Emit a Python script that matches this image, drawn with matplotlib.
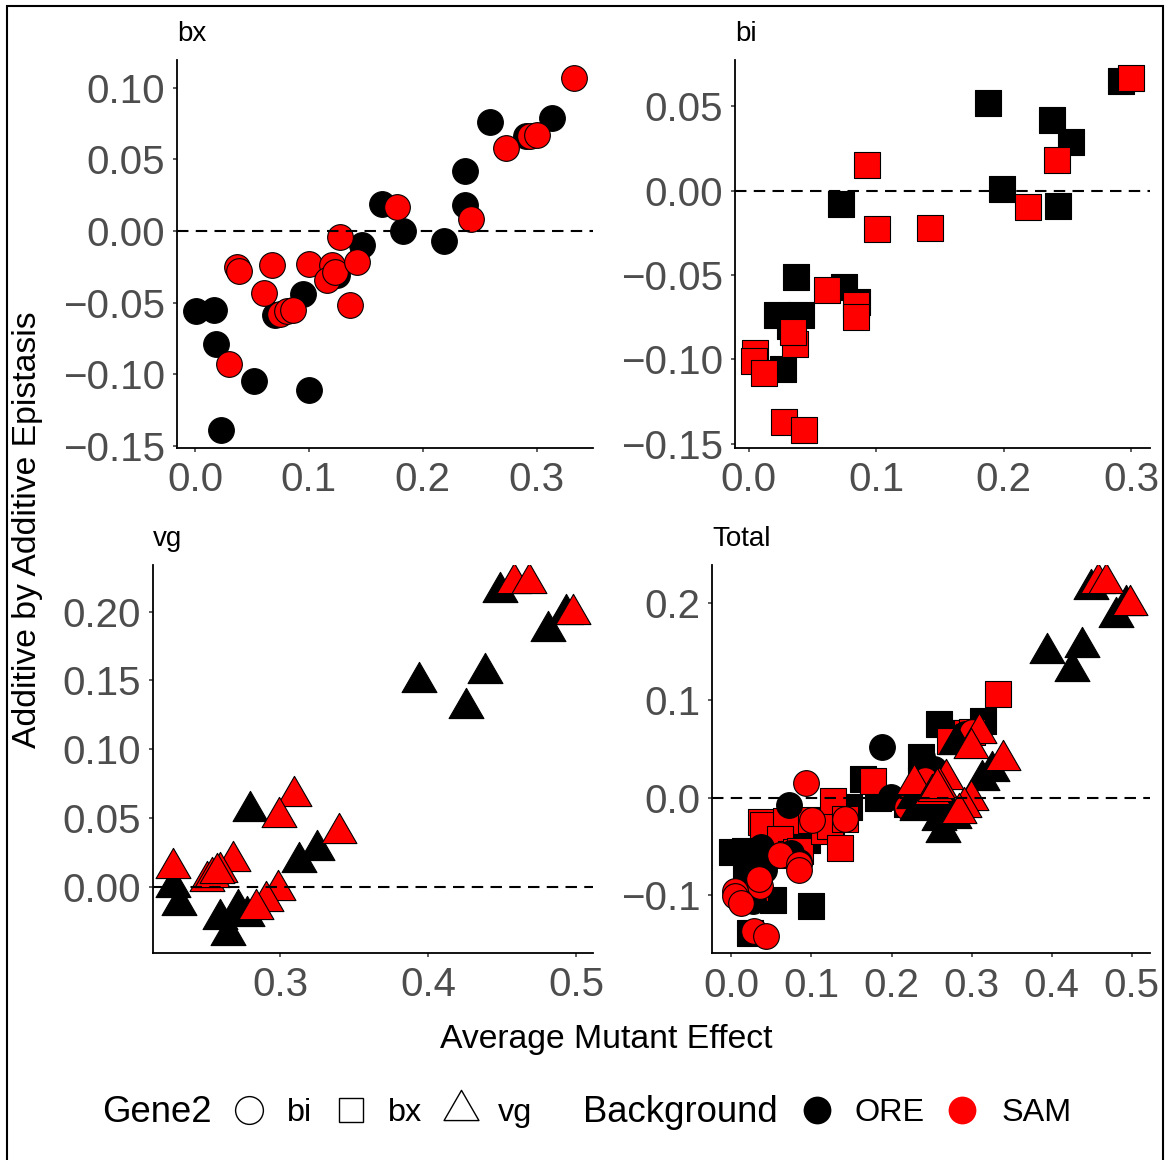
import matplotlib
matplotlib.use("Agg")
import matplotlib.pyplot as plt
from matplotlib.path import Path
from matplotlib.lines import Line2D
from matplotlib.patches import Rectangle
from matplotlib.ticker import FuncFormatter

plt.rcParams['font.family'] = ['Liberation Sans', 'DejaVu Sans']

# epistasis vs average mutant effect, Gene1 = bx
bx_ore_x = [0.001, 0.017, 0.018, 0.052, 0.100, 0.023, 0.070, 0.095, 0.125, 0.147,
            0.164, 0.183, 0.219, 0.237, 0.237, 0.259, 0.291, 0.314]
bx_ore_y = [-0.056, -0.055, -0.079, -0.105, -0.111, -0.139, -0.059, -0.044, -0.031, -0.010,
            0.019, 0.000, -0.007, 0.042, 0.018, 0.076, 0.066, 0.079]
bx_sam_x = [0.037, 0.039, 0.068, 0.061, 0.030, 0.075, 0.081, 0.086, 0.100, 0.120,
            0.116, 0.123, 0.136, 0.127, 0.142, 0.177, 0.242, 0.273, 0.294, 0.300, 0.333]
bx_sam_y = [-0.025, -0.028, -0.024, -0.043, -0.093, -0.058, -0.056, -0.055, -0.023, -0.024,
            -0.034, -0.029, -0.052, -0.004, -0.022, 0.017, 0.008, 0.058, 0.066, 0.067, 0.107]

# Gene1 = bi
bi_ore_x = [0.188, 0.238, 0.253, 0.199, 0.243, 0.292, 0.072, 0.037, 0.075, 0.085,
            0.022, 0.041, 0.032, 0.027]
bi_ore_y = [0.052, 0.042, 0.029, 0.001, -0.009, 0.065, -0.008, -0.051, -0.057, -0.066,
            -0.074, -0.074, -0.080, -0.106]
bi_sam_x = [0.300, 0.093, 0.101, 0.142, 0.219, 0.242, 0.061, 0.084, 0.084, 0.036,
            0.035, 0.005, 0.004, 0.012, 0.028, 0.043]
bi_sam_y = [0.067, 0.015, -0.023, -0.022, -0.010, 0.018, -0.059, -0.068, -0.075, -0.091,
            -0.084, -0.096, -0.101, -0.108, -0.137, -0.142]

# Gene1 = vg
vg_ore_x = [0.280, 0.313, 0.325, 0.2275, 0.2315, 0.2595, 0.2646, 0.2718, 0.2775, 0.394,
            0.4385, 0.426, 0.4486, 0.481, 0.493]
vg_ore_y = [0.055, 0.018, 0.027, 0.000, -0.013, -0.023, -0.035, -0.016, -0.021, 0.149,
            0.155, 0.130, 0.214, 0.186, 0.198]
vg_sam_x = [0.2275, 0.2685, 0.2595, 0.2505, 0.2539, 0.2572, 0.3095, 0.2995, 0.3396, 0.2989,
            0.2905, 0.2838, 0.458, 0.468, 0.498]
vg_sam_y = [0.014, 0.019, 0.011, 0.004, 0.007, 0.010, 0.066, 0.051, 0.039, -0.002,
            -0.010, -0.016, 0.221, 0.221, 0.198]

W, H = 1170, 1160
fig = plt.figure(figsize=(W / 100, H / 100), dpi=100)

# triangle centred on its centroid (R-style pch 24)
TRI = Path([[0, 1], [-0.866, -0.5], [0.866, -0.5], [0, 1]], closed=True)
MARKERS = {'circle': ('o', 18.5), 'square': ('s', 18.5), 'triangle': (TRI, 29)}
ORE, SAM = 'black', '#FF0000'
GREY = '#4D4D4D'


def px_axes(left, top, right, bottom):
    return fig.add_axes([left / W, 1 - bottom / H, (right - left) / W, (bottom - top) / H])


def fmt(decimals):
    def f(v, pos):
        s = f'{v:.{decimals}f}'
        if float(s) == 0:
            s = s.lstrip('-')
        return s.replace('-', '\u2212')
    return FuncFormatter(f)


def points(ax, x, y, shape, color):
    m, ms = MARKERS[shape]
    ax.scatter(x, y, marker=m, s=ms ** 2, c=color, edgecolors='black',
               linewidths=0.8, zorder=2)


def finish(ax, xticks, yticks, xdec, ydec):
    ax.margins(0.05)
    ax.axhline(0, color='black', lw=1.5, ls=(0, (5.5, 3.5)), zorder=3)
    xl, yl = ax.get_xlim(), ax.get_ylim()
    ax.set_xticks(xticks)
    ax.set_yticks(yticks)
    ax.set_xlim(xl)
    ax.set_ylim(yl)
    ax.xaxis.set_major_formatter(fmt(xdec))
    ax.yaxis.set_major_formatter(fmt(ydec))
    for s in ['top', 'right']:
        ax.spines[s].set_visible(False)
    for s in ['left', 'bottom']:
        ax.spines[s].set_linewidth(1.3)
    ax.tick_params(axis='both', length=2.75, width=1.1, color='#333333',
                   labelsize=29, labelcolor=GREY)
    ax.tick_params(axis='x', pad=7)
    ax.tick_params(axis='y', pad=6)


ax1 = px_axes(177.3, 60, 593, 447.7)
points(ax1, bx_ore_x, bx_ore_y, 'circle', ORE)
points(ax1, bx_sam_x, bx_sam_y, 'circle', SAM)
finish(ax1, [0, 0.1, 0.2, 0.3], [-0.15, -0.10, -0.05, 0, 0.05, 0.10], 1, 2)

ax2 = px_axes(735, 60, 1150, 447.7)
points(ax2, bi_ore_x, bi_ore_y, 'square', ORE)
points(ax2, bi_sam_x, bi_sam_y, 'square', SAM)
finish(ax2, [0, 0.1, 0.2, 0.3], [-0.15, -0.10, -0.05, 0, 0.05], 1, 2)

ax3 = px_axes(152.7, 565, 593, 952.7)
points(ax3, vg_ore_x, vg_ore_y, 'triangle', ORE)
points(ax3, vg_sam_x, vg_sam_y, 'triangle', SAM)
finish(ax3, [0.3, 0.4, 0.5], [0, 0.05, 0.10, 0.15, 0.20], 1, 2)

ax4 = px_axes(712.3, 565, 1150, 953.3)
points(ax4, bx_ore_x, bx_ore_y, 'square', ORE)
points(ax4, bx_sam_x, bx_sam_y, 'square', SAM)
points(ax4, bi_ore_x, bi_ore_y, 'circle', ORE)
points(ax4, bi_sam_x, bi_sam_y, 'circle', SAM)
points(ax4, vg_ore_x, vg_ore_y, 'triangle', ORE)
points(ax4, vg_sam_x, vg_sam_y, 'triangle', SAM)
finish(ax4, [0, 0.1, 0.2, 0.3, 0.4, 0.5], [-0.1, 0, 0.1, 0.2], 1, 1)


def ftext(x, y, s, **kw):
    fig.text(x / W, 1 - y / H, s, **kw)


# panel titles
ftext(177, 41, 'bx', fontsize=20, va='baseline')
ftext(735, 41, 'bi', fontsize=20, va='baseline')
ftext(153, 546, 'vg', fontsize=20, va='baseline')
ftext(712, 546, 'Total', fontsize=20, va='baseline')

# shared axis titles
ftext(606, 1048, 'Average Mutant Effect', fontsize=24.3, ha='center', va='baseline')
ftext(28, 530, 'Additive by Additive Epistasis', fontsize=24.3, rotation=90,
      ha='center', va='center')


def key(x, y, marker, ms, face, edge, lw):
    fig.add_artist(Line2D([x / W], [1 - y / H], transform=fig.transFigure, marker=marker,
                          markersize=ms, markerfacecolor=face, markeredgecolor=edge,
                          markeredgewidth=lw, linestyle='none'))


# legend
ftext(102, 1122, 'Gene2', fontsize=26.3, va='baseline')
key(249, 1110, 'o', 20, 'none', 'black', 1.0)
ftext(287, 1121, 'bi', fontsize=23.3, va='baseline')
key(351, 1110, 's', 17, 'none', 'black', 1.0)
ftext(388, 1121, 'bx', fontsize=23.3, va='baseline')
key(461, 1110, TRI, 29, 'none', 'black', 1.0)
ftext(498, 1121, 'vg', fontsize=23.3, va='baseline')

ftext(583, 1122, 'Background', fontsize=26.3, va='baseline')
key(817, 1110, 'o', 20, ORE, ORE, 0)
ftext(855, 1121, 'ORE', fontsize=23.3, va='baseline')
key(962, 1110, 'o', 20, SAM, SAM, 0)
ftext(1002, 1121, 'SAM', fontsize=23.3, va='baseline')

# outer frame
fig.add_artist(Rectangle((7 / W, -0.01), (1163 - 7) / W, 1 - 5.7 / H + 0.01,
                         transform=fig.transFigure, fill=False, edgecolor='black',
                         linewidth=1.5))

fig.savefig('out.png', dpi=100)
